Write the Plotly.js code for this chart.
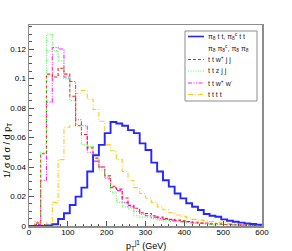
<!DOCTYPE html>
<html>
<head>
<meta charset="utf-8">
<script src="https://cdn.plot.ly/plotly-3.0.1.min.js"></script>
<style>
html,body{margin:0;padding:0;background:#fff;}
#chart{width:292px;height:251px;}
</style>
</head>
<body>
<div id="chart"></div>
<script>
// bin edges in GeV (40 bins of 15 GeV)
var binEdges = [0,15,30,45,60,75,90,105,120,135,150,165,180,195,210,225,240,255,270,285,300,315,330,345,360,375,390,405,420,435,450,465,480,495,510,525,540,555,570,585,600];

// normalised distributions 1/sigma dsigma/dpT, one value per bin
var pi8tt = [0,0,0,0.0003,0.0012,0.0047,0.0086,0.0142,0.0199,0.026,0.037,0.048,0.055,0.063,0.0705,0.0695,0.068,0.065,0.063,0.056,0.0515,0.043,0.037,0.031,0.0267,0.022,0.0187,0.0154,0.0131,0.0108,0.0081,0.007,0.0063,0.0045,0.0036,0.0029,0.0023,0.0018,0.0014,0.0009];
var ttwjj = [0,0.002,0.049,0.103,0.101,0.107,0.103,0.088,0.068,0.062,0.053,0.046,0.040,0.034,0.027,0.025,0.019,0.014,0.012,0.009,0.0085,0.007,0.006,0.005,0.0045,0.004,0.0035,0.003,0.0025,0.002,0.002,0.0015,0.0015,0.001,0.001,0.0008,0.0007,0.0006,0.0005,0.0004];
var ttzjj = [0,0.003,0.050,0.130,0.119,0.112,0.100,0.085,0.069,0.055,0.054,0.049,0.038,0.033,0.023,0.016,0.013,0.012,0.007,0.006,0.006,0.005,0.004,0.0035,0.003,0.003,0.0025,0.002,0.0018,0.0015,0.0012,0.001,0.001,0.0008,0.0008,0.0006,0.0005,0.0004,0.0003,0.0003];
var ttww = [0,0.001,0.031,0.084,0.121,0.120,0.101,0.098,0.072,0.068,0.050,0.044,0.040,0.032,0.026,0.024,0.016,0.013,0.010,0.008,0.007,0.006,0.005,0.0045,0.004,0.0035,0.003,0.0025,0.002,0.0018,0.0015,0.0012,0.001,0.001,0.0008,0.0007,0.0006,0.0005,0.0004,0.0003];
var tttt = [0,0.002,0.001,0.002,0.016,0.045,0.067,0.068,0.090,0.092,0.086,0.079,0.071,0.055,0.051,0.045,0.037,0.031,0.026,0.022,0.019,0.016,0.013,0.011,0.009,0.0075,0.0065,0.0055,0.0045,0.004,0.0035,0.003,0.0025,0.002,0.0018,0.0015,0.0012,0.001,0.0008,0.0006];

var seriesNames = [
  "π<sub>8</sub> t t, π<sub>8</sub><sup>c</sup> t t",
  "t t w<sup>+</sup> j j",
  "t t z j j",
  "t t w<sup>+</sup> w<sup>-</sup>",
  "t t t t"
];
var legendExtraLine = "π<sub>8</sub> π<sub>8</sub><sup>c</sup>, π<sub>8</sub> π<sub>8</sub>";
var xTickVals = [0,100,200,300,400,500,600];
var xTitle = "p<sub>T</sub><sup>j1</sup> (GeV)";
var yTitle = "1/ σ d σ / d p<sub>T</sub>";

var seriesData = [pi8tt, ttwjj, ttzjj, ttww, tttt];
var styles = [
  {color:'#2626ff', width:1.9, dash:'solid'},
  {color:'#ff1a1a', width:1.1, dash:'3px,2px'},
  {color:'#4dff4d', width:1.1, dash:'1px,1.5px'},
  {color:'#ff1aff', width:1.1, dash:'4px,1.5px,1px,1.5px,1px,1.5px'},
  {color:'#ffcc1a', width:1.1, dash:'5px,2px,1px,2px'}
];

var font = "Liberation Sans, Arial, Helvetica, sans-serif";
var traces = [];
var order = [4,3,1,2,0];
order.forEach(function(i){
  var ys = seriesData[i].concat([seriesData[i][seriesData[i].length-1]]);
  traces.push({
    x: binEdges, y: ys, type:'scatter', mode:'lines',
    line: {shape:'hv', color:styles[i].color, width:styles[i].width, dash:styles[i].dash},
    name: seriesNames[i], showlegend:false, hoverinfo:'skip'
  });
});

// custom compact legend (paper coordinates)
var W = 292, H = 251, mL = 29, mR = 30, mT = 25, mB = 25;
var pw = W - mL - mR, ph = H - mT - mB;
function px(X){ return (X - mL) / pw; }
function py(Y){ return (H - mB - Y) / ph; }

var shapes = [{
  type:'rect', xref:'paper', yref:'paper',
  x0:px(185), x1:px(257), y0:py(101), y1:py(31),
  line:{color:'#8c8c8c', width:1}, fillcolor:'#ffffff', layer:'above'
}];
var annotations = [];
var rowY = [36.5, 48, 59.5, 71, 83, 94.5];
var rows = [
  {text:seriesNames[0], style:styles[0]},
  {text:legendExtraLine, style:null},
  {text:seriesNames[1], style:styles[1]},
  {text:seriesNames[2], style:styles[2]},
  {text:seriesNames[3], style:styles[3]},
  {text:seriesNames[4], style:styles[4]}
];
rows.forEach(function(r, k){
  if (r.style) {
    shapes.push({type:'line', xref:'paper', yref:'paper',
      x0:px(188), x1:px(204), y0:py(rowY[k]), y1:py(rowY[k]),
      line:{color:r.style.color, width:Math.min(r.style.width,1.6), dash:r.style.dash}, layer:'above'});
  }
  annotations.push({xref:'paper', yref:'paper', x:px(206), y:py(rowY[k]),
    xanchor:'left', yanchor:'middle', showarrow:false, text:r.text,
    font:{family:font, size:7, color:'#222'}});
});
annotations.push({xref:'paper', yref:'paper', x:px(7), y:py(151), xanchor:'center', yanchor:'middle',
  textangle:-90, showarrow:false, text:yTitle, font:{family:font, size:9, color:'#000'}});
annotations.push({xref:'paper', yref:'paper', x:px(145.5), y:py(252.5), xanchor:'center', yanchor:'bottom',
  showarrow:false, text:xTitle, font:{family:font, size:9, color:'#000'}, borderpad:0});

var layout = {
  width: W, height: H,
  margin: {l:mL, r:mR, t:mT, b:mB, pad:0},
  paper_bgcolor:'#fff', plot_bgcolor:'#fff',
  font:{family:font, size:8, color:'#000'},
  showlegend:false,
  xaxis: {
    range:[0,600], tickvals:xTickVals, ticks:'inside', ticklen:5, tickwidth:1, tickcolor:'#555',
    minor:{dtick:20, ticks:'inside', ticklen:2.5, tickcolor:'#555', tickwidth:1},
    showline:true, linecolor:'#8c8c8c', linewidth:1.5, mirror:true,
    showgrid:false, zeroline:false, tickfont:{size:8, family:font}, ticklabelstandoff:-2
  },
  yaxis: {
    range:[0,0.1363], dtick:0.02, tick0:0, ticks:'inside', ticklen:5, tickwidth:1, tickcolor:'#555',
    minor:{dtick:0.005, ticks:'inside', ticklen:2.5, tickcolor:'#555', tickwidth:1},
    showline:true, linecolor:'#8c8c8c', linewidth:1.5, mirror:true,
    showgrid:false, zeroline:false, tickfont:{size:8, family:font}
  },
  shapes: shapes,
  annotations: annotations
};

Plotly.newPlot('chart', traces, layout, {staticPlot:true, displayModeBar:false});
</script>
</body>
</html>
